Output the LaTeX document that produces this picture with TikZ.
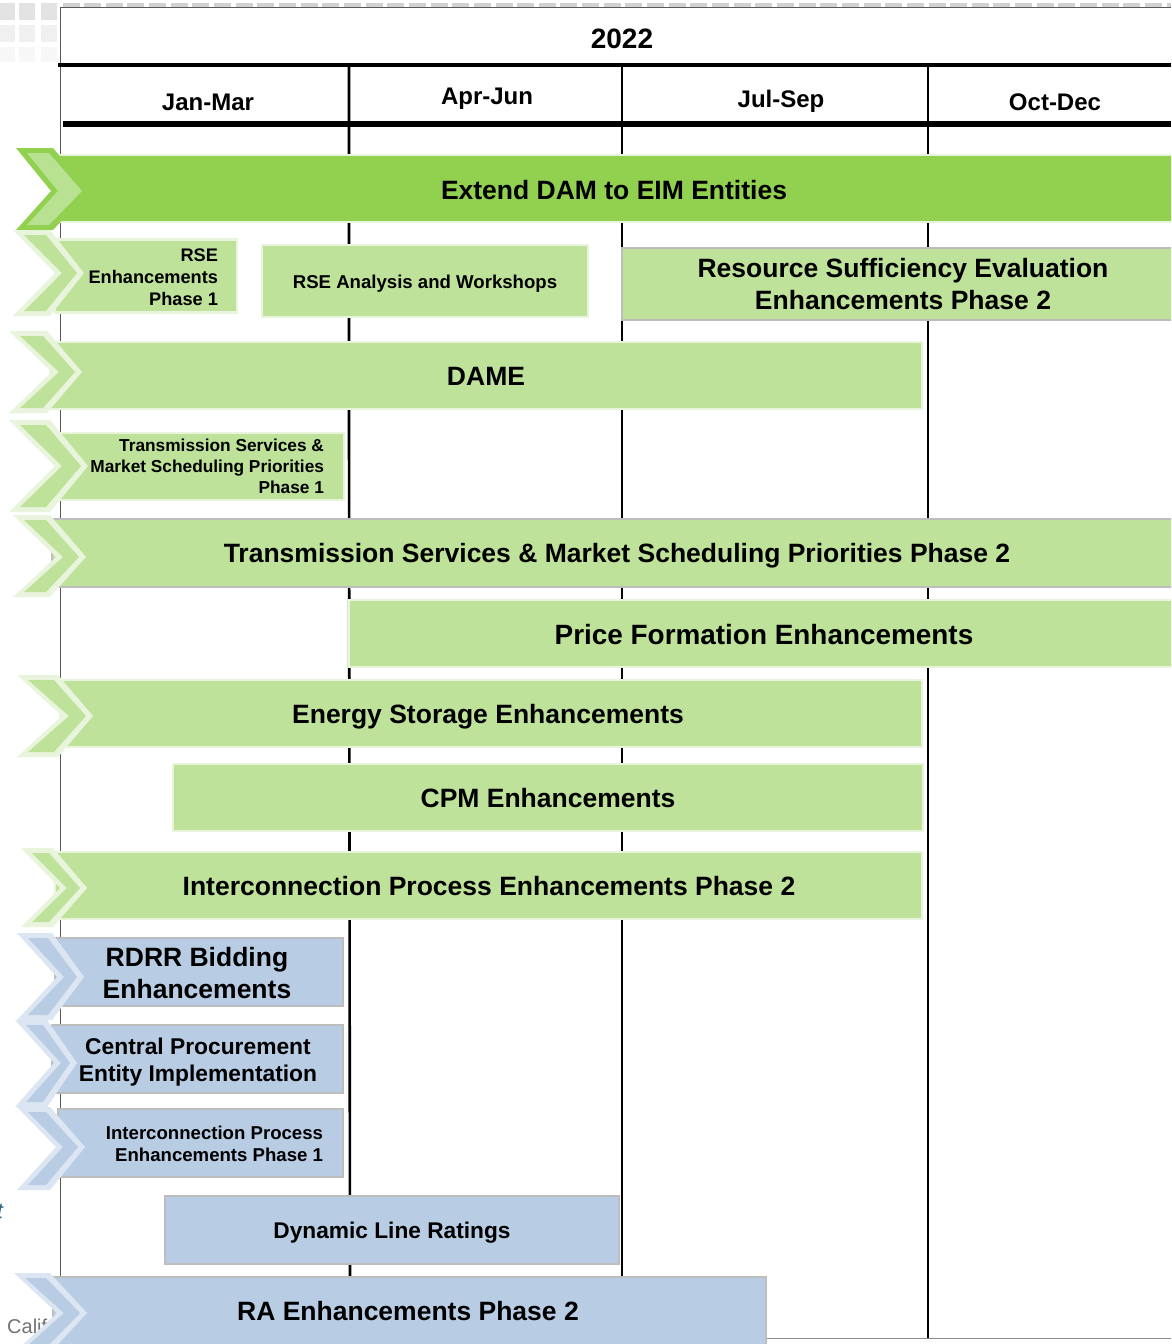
\documentclass[tikz,border=0pt]{standalone}
\usepackage{fontspec}
\setmainfont{Liberation Sans}[BoldFont={Liberation Sans Bold}]
\definecolor{gbright}{HTML}{92D050}
\definecolor{gpale}{HTML}{BFE29A}
\definecolor{gedge}{HTML}{E8F4DC}
\definecolor{gchev}{HTML}{BFE29A}
\definecolor{gchevb}{HTML}{B9E192}
\definecolor{bfill}{HTML}{B8CCE4}
\definecolor{bedge}{HTML}{DCE6F2}
\definecolor{gedgegrey}{HTML}{BDBDBD}
\definecolor{fragblue}{HTML}{2F5F7F}
\newcommand\fs[2]{\fontsize{#1}{#2}\selectfont\bfseries}
\newcommand\chev[9]{% edge, fill, xl, xtr, xtip, xnotch, ytop, ymid, ybot
 \fill[#1] (#3,#7) -- (#4,#7) -- (#5,#8) -- (#4,#9) -- (#3,#9) -- (#6,#8) -- cycle;
 \fill[#2] ({#3+11},{#7+5}) -- ({#4-4},{#7+5}) -- ({#5-7},#8) -- ({#4-4},{#9-5}) -- ({#3+11},{#9-5}) -- ({#6+7},#8) -- cycle;
}
\tikzset{
 x=1pt,y=-1pt,
 greenbar/.style={fill=gpale,draw=gedge,line width=2.5pt},
 greygreenbar/.style={fill=gpale,draw=gedgegrey,line width=2pt},
 brightbar/.style={fill=gbright,draw=gedge,line width=2.5pt},
 bluebar/.style={fill=bfill,draw=gedgegrey,line width=2pt},
 grid/.style={black,line width=2.6pt},
 rule/.style={black,line width=3.5pt},
 hair/.style={draw=black!65,line width=1pt},
 lab/.style={inner sep=0pt,outer sep=0pt,align=center,text=black},
 labr/.style={inner sep=0pt,outer sep=0pt,align=right,text=black,anchor=east}
}
\begin{document}
\begin{tikzpicture}
\useasboundingbox (0,0) rectangle (1171,1344);
\clip (0,0) rectangle (1171,1344);
\fill[white] (0,0) rectangle (1171,1344);
% background decoration
\foreach \c/\xa/\xb in {0/0/15,1/19/35,2/41/57}{
 \fill[black!11] (\xa,3) rectangle (\xb,20);
 \fill[black!6] (\xa,25) rectangle (\xb,42);
 \fill[black!3] (\xa,47) rectangle (\xb,62);
}
\foreach \i in {0,...,51}{
 \fill[black!18] ({62.5+21.65*\i},2.5) rectangle ({79.5+21.65*\i},6.5);
}
\node[anchor=base west,inner sep=0pt,text=black!55,font=\fontsize{20}{20}\selectfont] (califtext) at (7,1333) {Calif};
\node[anchor=base,inner sep=0pt,text=fragblue,font=\fontsize{22}{22}\selectfont\itshape] (frag) at (0,1218) {t};
% grid
\draw[hair] (60,1344) -- (60,7.5) -- (1171,7.5);
\draw[hair,draw=black!45] (766,1338) -- (1171,1338);
\draw[grid] (349,66) -- (349,420) -- (350,1290);
\draw[grid] (622,66) -- (622,1290);
\draw[grid] (928,66) -- (928,1338);
\draw[rule] (58,65) -- (1171,65);
\draw[black,line width=5.5pt] (63,124) -- (1171,124);
% headers
\node[lab,font=\fs{28}{32}] (year) at (622,39) {2022};
\node[lab,font=\fs{24}{28}] (q1) at (208,102) {Jan-Mar};
\node[lab,font=\fs{24}{28}] (q2) at (487,99) {Apr-Jun};
\node[lab,font=\fs{24}{28}] (q3) at (781,101) {Jul-Sep};
\node[lab,font=\fs{24}{28}] (q4) at (1055,102) {Oct-Dec};
% bars
\path[brightbar] (55,155) rectangle (1180,222);
\path[greenbar] (55,239.5) rectangle (237,312.5);
\path[greenbar] (262,245) rectangle (588,317);
\path[greygreenbar] (622,248) rectangle (1180,320);
\path[greenbar] (50,342) rectangle (922,409);
\path[greenbar] (60,433) rectangle (344,500);
\path[greygreenbar] (52,519) rectangle (1180,587);
\path[greenbar] (349,600) rectangle (1180,667);
\path[greenbar] (60,680) rectangle (922,747);
\path[greenbar] (173,764) rectangle (923,831);
\path[greenbar] (55,852) rectangle (922,919);
\path[bluebar] (55,938) rectangle (343,1006);
\path[bluebar] (52,1025) rectangle (343,1093);
\path[bluebar] (58,1109) rectangle (343,1177);
\path[bluebar] (164.5,1196) rectangle (618.5,1264);
\path[bluebar] (53,1277) rectangle (765.5,1360);
% chevrons
\chev{gbright}{gchevb}{16}{53}{89}{51}{148}{191}{230}
\chev{gedge}{gchev}{13}{50}{84}{55}{230}{273}{316}
\chev{gedge}{gchev}{9}{47}{82}{52}{331}{372}{413}
\chev{gedge}{gchev}{9}{50}{88}{55}{420}{466}{512}
\chev{gedge}{gchev}{13}{50}{86}{56}{515}{557}{597}
\chev{gedge}{gchev}{17}{58}{93}{62}{675}{716}{757}
\chev{gedge}{gchev}{21}{53}{87}{60}{848}{888}{927}
\chev{bedge}{bfill}{17}{52}{84}{57}{933}{977}{1020}
\chev{bedge}{bfill}{15}{47}{77}{54}{1020}{1063}{1107}
\chev{bedge}{bfill}{17}{50}{85}{56}{1107}{1147}{1190}
\chev{bedge}{bfill}{14}{50}{87}{57}{1273}{1313}{1353}
% bar labels
\node[lab,font=\fs{26.5}{32}] (t1) at (614,190) {Extend DAM to EIM Entities};
\node[labr,font=\fs{18.2}{22}] (t2) at (218,277) {RSE\\Enhancements\\Phase 1};
\node[lab,font=\fs{18.6}{22}] (t3) at (425,284) {RSE Analysis and Workshops};
\node[lab,font=\fs{26.5}{32}] (t4) at (903,284) {Resource Sufficiency Evaluation\\Enhancements Phase 2};
\node[lab,font=\fs{26.5}{32}] (t5) at (486,376) {DAME};
\node[labr,font=\fs{17.3}{21}] (t6) at (324,466) {Transmission Services \&\\Market Scheduling Priorities\\Phase 1};
\node[lab,font=\fs{26.5}{32}] (t7) at (617,556) {Transmission Services \& Market Scheduling Priorities Phase 2};
\node[lab,font=\fs{27.9}{32}] (t8) at (764,634.5) {Price Formation Enhancements};
\node[lab,font=\fs{26.5}{32}] (t9) at (488,717) {Energy Storage Enhancements};
\node[lab,font=\fs{26.5}{32}] (t10) at (548,798) {CPM Enhancements};
\node[lab,font=\fs{26.5}{32}] (t11) at (489,886) {Interconnection Process Enhancements Phase 2};
\node[lab,font=\fs{26.5}{32}] (t12) at (197,973) {RDRR Bidding\\Enhancements};
\node[lab,font=\fs{22.8}{27}] (t13) at (198,1062) {Central Procurement\\Entity Implementation};
\node[labr,font=\fs{18.6}{22}] (t14) at (323,1144) {Interconnection Process\\Enhancements Phase 1};
\node[lab,font=\fs{22.7}{27}] (t15) at (392,1233) {Dynamic Line Ratings};
\node[lab,font=\fs{26.5}{32}] (t16) at (408,1311) {RA Enhancements Phase 2};
\end{tikzpicture}
\end{document}
